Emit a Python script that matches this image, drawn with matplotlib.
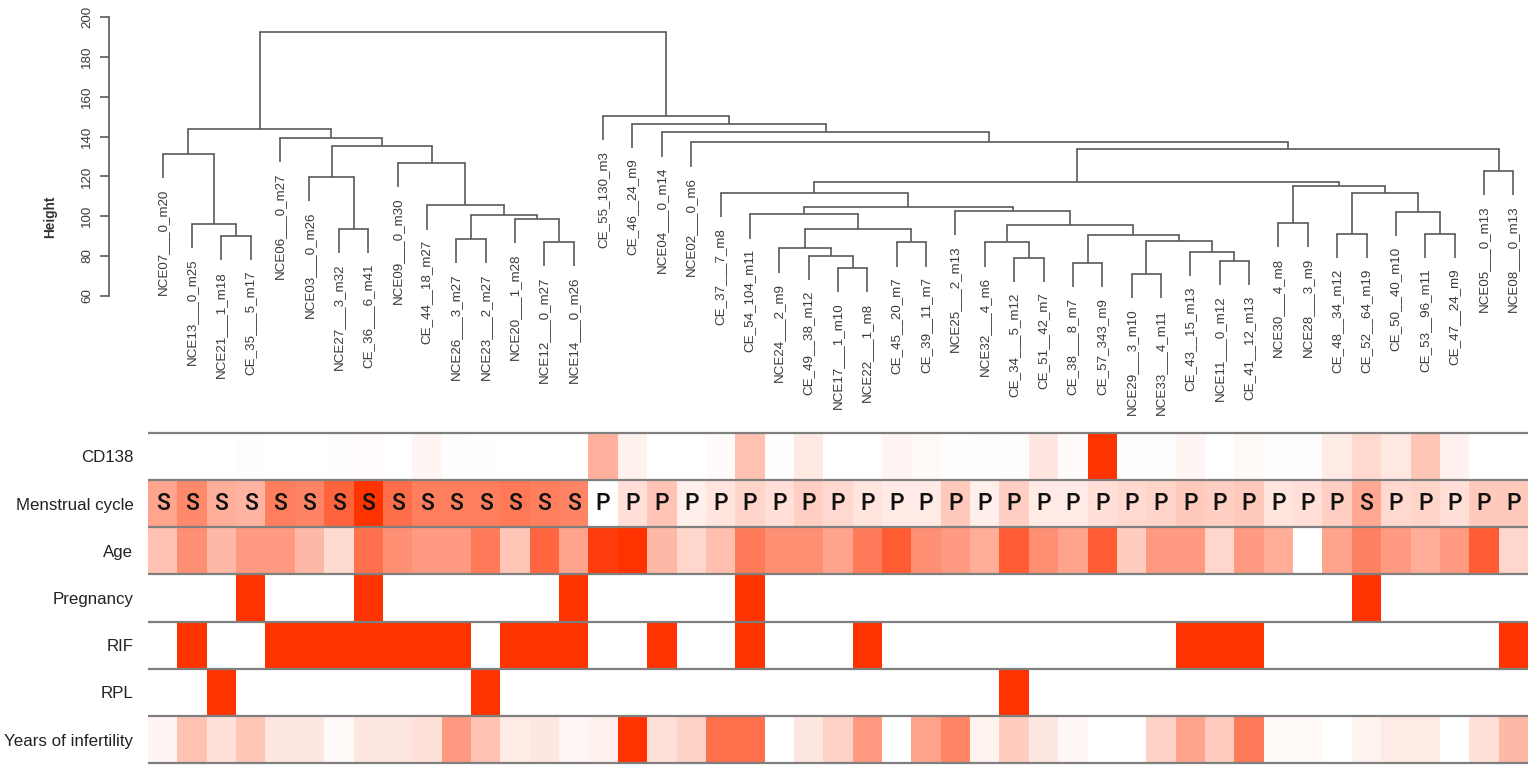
import matplotlib
matplotlib.use("Agg")
import matplotlib.pyplot as plt
import numpy as np
from matplotlib.colors import LinearSegmentedColormap

# ---------------- data ----------------
labels = [
    "NCE07___0_m20", "NCE13___0_m25", "NCE21___1_m18", "CE_35___5_m17",
    "NCE06___0_m27", "NCE03___0_m26", "NCE27___3_m32", "CE_36___6_m41",
    "NCE09___0_m30", "CE_44__18_m27", "NCE26___3_m27", "NCE23___2_m27",
    "NCE20___1_m28", "NCE12___0_m27", "NCE14___0_m26", "CE_55_130_m3",
    "CE_46__24_m9", "NCE04___0_m14", "NCE02___0_m6", "CE_37___7_m8",
    "CE_54_104_m11", "NCE24___2_m9", "CE_49__38_m12", "NCE17___1_m10",
    "NCE22___1_m8", "CE_45__20_m7", "CE_39__11_m7", "NCE25___2_m13",
    "NCE32___4_m6", "CE_34___5_m12", "CE_51__42_m7", "CE_38___8_m7",
    "CE_57_343_m9", "NCE29___3_m10", "NCE33___4_m11", "CE_43__15_m13",
    "NCE11___0_m12", "CE_41__12_m13", "NCE30___4_m8", "NCE28___3_m9",
    "CE_48__34_m12", "CE_52__64_m19", "CE_50__40_m10", "CE_53__96_m11",
    "CE_47__24_m9", "NCE05___0_m13", "NCE08___0_m13",
]

# merges: node ids 0..46 are leaves, new nodes get ids 47, 48, ...
merge_pairs = [
    (2, 3), (1, 47), (0, 48), (6, 7), (5, 50), (10, 11), (13, 14), (12, 53),
    (52, 54), (9, 55), (8, 56), (51, 57), (4, 58), (49, 59),
    (23, 24), (22, 61), (21, 62), (25, 26), (63, 64), (20, 65), (29, 30),
    (28, 67), (31, 32), (33, 34), (36, 37), (35, 71), (70, 72), (69, 73),
    (68, 74), (27, 75), (66, 76), (19, 77), (38, 39), (40, 41), (43, 44),
    (42, 81), (80, 82), (79, 83), (78, 84), (45, 46), (85, 86), (18, 87),
    (17, 88), (16, 89), (15, 90), (60, 91),
]
merge_heights = [
    89.9, 96.2, 131.2, 93.5, 119.8, 88.4, 87.1, 98.6,
    100.4, 105.4, 126.6, 135.3, 139.4, 144.0,
    73.8, 80.1, 83.8, 86.8, 93.4, 100.9, 79.1,
    86.8, 76.3, 70.8, 77.6, 82.1, 87.7, 90.7,
    95.6, 102.6, 104.6, 111.5, 96.4, 90.9, 91.2,
    102.1, 111.5, 115.2, 117.3, 122.7, 133.8, 137.1,
    142.1, 146.3, 150.3, 192.4,
]

row_names = ["CD138", "Menstrual cycle", "Age", "Pregnancy", "RIF", "RPL",
             "Years of infertility"]

cd138_count = [0, 0, 1, 5, 0, 0, 3, 6, 0, 18, 3, 2, 1, 0, 0, 130, 24, 0, 0, 7,
               104, 2, 38, 1, 1, 20, 11, 2, 4, 5, 42, 8, 343, 3, 4, 15, 0, 12,
               4, 3, 34, 64, 40, 96, 24, 0, 0]
cycle_day = [20, 25, 18, 17, 27, 26, 32, 41, 30, 27, 27, 27, 28, 27, 26, 3, 9,
             14, 6, 8, 11, 9, 12, 10, 8, 7, 7, 13, 6, 12, 7, 7, 9, 10, 11, 13,
             12, 13, 8, 9, 12, 19, 10, 11, 9, 13, 13]
cycle_phase = list("SSSSSSSSSSSSSSS" "PPPPPPPPPPPPPPPPPPPPPPPPPP" "S" "PPPPP")
age_level = [0.30, 0.55, 0.35, 0.50, 0.50, 0.35, 0.18, 0.70, 0.55, 0.50, 0.50,
             0.65, 0.28, 0.75, 0.45, 0.95, 1.00, 0.35, 0.20, 0.32, 0.65, 0.55,
             0.55, 0.45, 0.65, 0.80, 0.55, 0.50, 0.40, 0.80, 0.55, 0.45, 0.80,
             0.25, 0.50, 0.50, 0.20, 0.50, 0.40, 0.00, 0.45, 0.62, 0.50, 0.40,
             0.50, 0.80, 0.20]
pregnancy = [0, 0, 0, 1, 0, 0, 0, 1, 0, 0, 0, 0, 0, 0, 1, 0, 0, 0, 0, 0, 1, 0,
             0, 0, 0, 0, 0, 0, 0, 0, 0, 0, 0, 0, 0, 0, 0, 0, 0, 0, 0, 1, 0, 0,
             0, 0, 0]
rif = [0, 1, 0, 0, 1, 1, 1, 1, 1, 1, 1, 0, 1, 1, 1, 0, 0, 1, 0, 0, 1, 0, 0, 0,
       1, 0, 0, 0, 0, 0, 0, 0, 0, 0, 0, 1, 1, 1, 0, 0, 0, 0, 0, 0, 0, 0, 1]
rpl = [0, 0, 1, 0, 0, 0, 0, 0, 0, 0, 0, 1, 0, 0, 0, 0, 0, 0, 0, 0, 0, 0, 0, 0,
       0, 0, 0, 0, 0, 1, 0, 0, 0, 0, 0, 0, 0, 0, 0, 0, 0, 0, 0, 0, 0, 0, 0]
infertility_level = [0.05, 0.30, 0.15, 0.28, 0.12, 0.12, 0.03, 0.12, 0.12, 0.15,
                     0.50, 0.30, 0.10, 0.12, 0.04, 0.07, 1.00, 0.15, 0.22, 0.70,
                     0.70, 0.00, 0.12, 0.22, 0.50, 0.00, 0.45, 0.60, 0.06, 0.25,
                     0.12, 0.04, 0.00, 0.00, 0.22, 0.45, 0.25, 0.65, 0.03, 0.03,
                     0.00, 0.06, 0.10, 0.10, 0.00, 0.15, 0.35]

# ---------------- figure ----------------
W, H = 1535, 771
fig = plt.figure(figsize=(W / 100, H / 100), dpi=100)
FONT = "Liberation Sans"
LINE = "#5a5a5a"
TXT = "#3a3a3a"

n = len(labels)
x_left, x_right = 148, 1528


def fy(py):
    return 1 - py / H


# ----- dendrogram -----
axd = fig.add_axes([x_left / W, fy(295.7), (x_right - x_left) / W,
                    (295.7 - 17.3) / H])
axd.set_xlim(-0.5, n - 0.5)
axd.set_ylim(60, 200)
for s in ["top", "right", "bottom"]:
    axd.spines[s].set_visible(False)
axd.spines["left"].set_position(("outward", 39 * 0.72))
axd.spines["left"].set_bounds(60, 200)
axd.spines["left"].set_color(LINE)
axd.spines["left"].set_linewidth(1.2)
axd.set_xticks([])
axd.set_yticks(np.arange(60, 201, 20))
axd.tick_params(axis="y", length=6.5, width=1.2, color=LINE, pad=5,
                labelsize=9.6, labelcolor=TXT)
for t in axd.get_yticklabels():
    t.set_rotation(90)
    t.set_va("center")
    t.set_fontfamily(FONT)
axd.patch.set_alpha(0)

hang = 0.1 * (max(merge_heights) - min(merge_heights))
xpos = {i: float(i) for i in range(n)}
hpos = {}
node = n
for (a, b), h in zip(merge_pairs, merge_heights):
    for c in (a, b):
        ybot = hpos[c] if c in hpos else h - hang
        axd.plot([xpos[c], xpos[c]], [ybot, h], color=LINE, lw=1.2,
                 clip_on=False, solid_capstyle="butt")
    axd.plot([xpos[a], xpos[b]], [h, h], color=LINE, lw=1.2, clip_on=False,
             solid_capstyle="projecting")
    xpos[node] = (xpos[a] + xpos[b]) / 2
    hpos[node] = h
    node += 1

parent_h = {}
for (a, b), h in zip(merge_pairs, merge_heights):
    for c in (a, b):
        if c < n:
            parent_h[c] = h
for i, lab in enumerate(labels):
    axd.annotate(lab, (i, parent_h[i] - hang), xytext=(0, -7.5),
                 textcoords="offset points", rotation=90, ha="center",
                 va="top", fontsize=9.6, family=FONT, color=TXT,
                 annotation_clip=False)

fig.text(50 / W, fy(217), "Height", rotation=90, ha="center", va="center",
         fontsize=9.8, family=FONT, color="#333333", fontweight="bold")

# ----- heatmap -----
axh = fig.add_axes([x_left / W, fy(763.3), (x_right - x_left) / W,
                    (763.3 - 432.7) / H])
cmap = LinearSegmentedColormap.from_list("wr", ["#ffffff", "#ff3300"])
cd = np.array(cd138_count, float)
cy = np.array(cycle_day, float)
mat = np.vstack([
    cd / cd.max(),
    (cy - cy.min()) / (cy.max() - cy.min()),
    np.array(age_level),
    np.array(pregnancy, float),
    np.array(rif, float),
    np.array(rpl, float),
    np.array(infertility_level),
])
xe = np.arange(n + 1) - 0.5
ye = np.arange(len(row_names) + 1)
axh.pcolormesh(xe, ye, mat, cmap=cmap, vmin=0, vmax=1, shading="flat")
axh.set_xlim(-0.5, n - 0.5)
axh.set_ylim(len(row_names), 0)
for s in axh.spines.values():
    s.set_visible(False)
axh.hlines(np.arange(len(row_names) + 1), -0.5, n - 0.5, color="#7f7f7f",
           lw=1.6, clip_on=False)
axh.set_xticks([])
axh.set_yticks(np.arange(len(row_names)) + 0.5)
axh.set_yticklabels(row_names, fontsize=12.2, family=FONT, color="#222222")
axh.tick_params(axis="y", length=0, pad=10.5)
for i, ph in enumerate(cycle_phase):
    axh.text(i, 1.5, ph, ha="center", va="center", fontsize=16.5,
             family=["Roboto", "DejaVu Sans"], fontweight="medium",
             color="#111111")

fig.savefig("out.png", dpi=100)
